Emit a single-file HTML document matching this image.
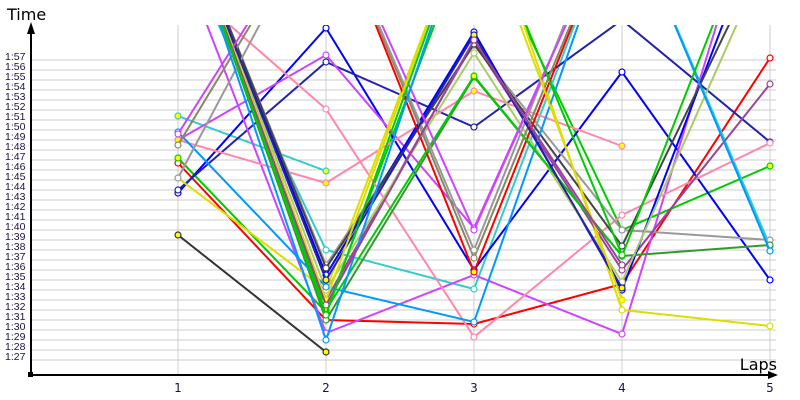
<!DOCTYPE html>
<html><head><meta charset="utf-8"><style>
html,body{margin:0;padding:0;background:#fff;width:800px;height:400px;overflow:hidden}
svg{display:block;font-family:"DejaVu Sans","Liberation Sans",sans-serif}
</style></head><body>
<svg id="c" width="800" height="400" xmlns="http://www.w3.org/2000/svg">
<defs><clipPath id="cp"><rect x="30" y="25" width="752" height="350"/></clipPath></defs>
<g id="grid"></g>
<g id="series" clip-path="url(#cp)"></g>
<line x1="30" y1="375" x2="776" y2="375" stroke="#000" stroke-width="2"/>
<polygon points="778,375 768,371 768,379" fill="#000"/>
<line x1="31" y1="28" x2="31" y2="375" stroke="#000" stroke-width="2"/>
<polygon points="31,22 27,34 35,34" fill="#000"/>
<rect x="28" y="372" width="5" height="5" fill="#000"/>
<text x="7" y="20" font-size="16" fill="#000">Time</text>
<text x="777" y="370" font-size="16" fill="#000" text-anchor="end">Laps</text>
</svg>
<script>
var g=document.getElementById('grid'),s=document.getElementById('series'),h='';
for(var k=0;k<=30;k++){var y=60+10*k;h+='<line x1="31" y1="'+y+'" x2="776" y2="'+y+'" stroke="#ccc" stroke-width="1"/>';}
for(var t=57;t>=27;t--){var y=56+(57-t)*10+4;h+='<text x="5" y="'+y+'" font-size="10.5" fill="#201040" style="font-family:\'Liberation Sans\',sans-serif">1:'+t+'</text>';}
var X=[178,326,474,622,770];
for(var i=0;i<5;i++){h+='<line x1="'+X[i]+'" y1="25" x2="'+X[i]+'" y2="375" stroke="#ccc"/>';h+='<text x="'+X[i]+'" y="392" font-size="12" text-anchor="middle" fill="#201040">'+(i+1)+'</text>';}
g.innerHTML=h;
var N=null,S=[
['#333',[235,352,N,N,N],1],
['#f00',[163,320,324,284,58],0],
['#0c0',[158,312,-80,230,166],1],
['#3cc',[116,171,N,N,N],1],
['#3cc',[-60,250,289,-100,246],0],
['#00f',[193,28,270,72,280],0],
['#22a',[190,62,127,20,142],0],
['#c4f',[140,55,228,-100,N],0],
['#c4f',[-50,333,275,334,-150],0],
['#f8a',[-20,109,337,215,143],0],
['#f8a',[140,183,91,146,N],1],
['#dd0',[178,290,-100,N,N],1],
['#dd0',[N,N,-120,310,326],0],
['#999',[-100,265,45,230,240],0],
['#949',[-100,300,42,270,84],0],
['#00f',[-100,275,32,290,-100],0],
['#393',[-100,320,77,256,245],0],
['#ac6',[-100,290,53,282,-50],0],
['#444',[-100,268,44,246,-60],0],
['#09f',[132,287,322,-100,251],0],
['#f00',[-100,-100,272,-100,N],1],
['#0c0',[-100,310,76,256,-120],1],
['#886',[145,-100,258,-100,N],0],
['#999',[178,-100,250,-120,N],0],
['#22a',[-100,280,35,288,N],1],
['#c4f',[134,-100,230,-100,N],0],
['#09f',[-100,340,-100,-100,N],0],
['#dd0',[-100,300,-100,300,N],1],
['#949',[-100,305,40,265,N],0],
['#0c0',[-100,315,-100,255,N],0]
];
var o='';
S.forEach(function(r){var p=[];r[1].forEach(function(v,i){if(v!==N)p.push(X[i]+','+v);});
o+='<polyline points="'+p.join(' ')+'" fill="none" stroke="'+r[0]+'" stroke-width="2"/>';
r[1].forEach(function(v,i){if(v!==N&&v>25)o+='<circle cx="'+X[i]+'" cy="'+v+'" r="3" fill="'+(r[2]?'#ff0':'#fff')+'" stroke="'+r[0]+'" stroke-width="1.2"/>';});});
s.innerHTML=o;
</script>
</body></html>
